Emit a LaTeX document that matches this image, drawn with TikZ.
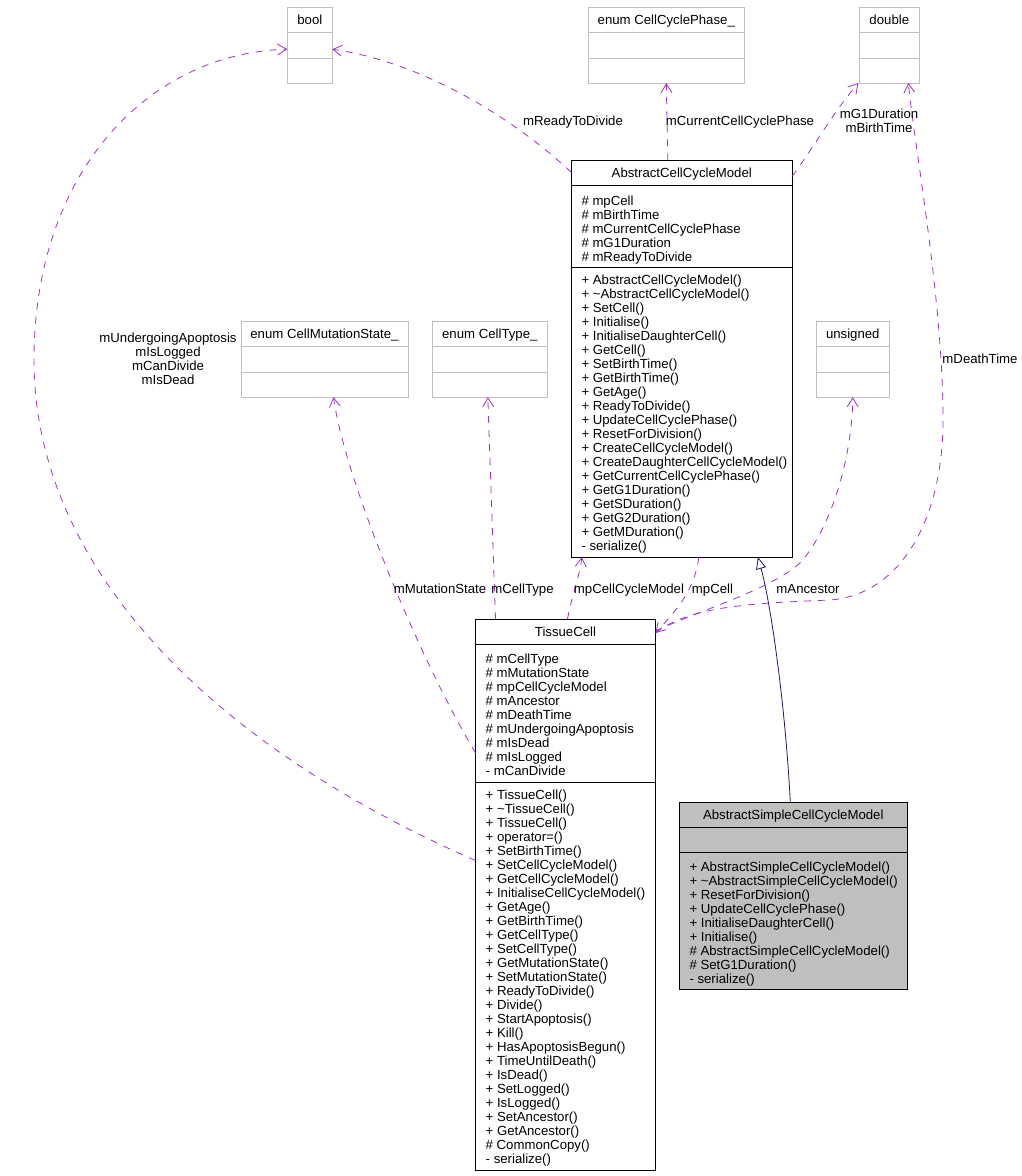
\documentclass[tikz,border=0pt]{standalone}
\usepackage{fontspec}
\setmainfont{Liberation Sans}
\usetikzlibrary{arrows.meta,calc}
\definecolor{relpurple}{HTML}{9A32CD}
\definecolor{inhblue}{HTML}{191970}
\definecolor{typegray}{HTML}{BFBFBF}
\newcommand\umlfont{\fontsize{13.2}{14}\selectfont}

\begin{document}
\begin{tikzpicture}[x=1pt, y=-1pt,
  font=\umlfont,
  cls/.style={draw=black, line width=0.9pt, fill=white, inner sep=0pt, outer sep=0pt},
  typ/.style={draw=typegray, line width=0.9pt, fill=white, inner sep=0pt, outer sep=0pt,
    minimum height=75.7pt},
  ttl/.style={anchor=base, inner sep=0pt},
  mem/.style={anchor=north west, align=left, inner sep=0pt},
  lbl/.style={anchor=base, inner sep=0pt, align=center},
  rel/.style={relpurple, line width=0.8pt, dash pattern=on 7pt off 7pt,
    -{Straight Barb[length=9pt,width=11pt]}},
  inh/.style={inhblue, line width=0.8pt, -{Triangle[open,length=12pt,width=10pt,fill=white]}},
]
\useasboundingbox (0,0) rectangle (1021,1176);

% plain types
\node[typ, minimum width=45pt] (bool) at (309.8,45.2) {};
\node[typ, minimum width=156pt] (phase) at (666.3,45.2) {};
\node[typ, minimum width=60pt] (dbl) at (889.3,45.2) {};
\node[typ, minimum width=167pt] (mutation) at (324.5,359.3) {};
\node[typ, minimum width=114.5pt] (celltype) at (489.8,359.3) {};
\node[typ, minimum width=73pt] (unsig) at (852.8,359.3) {};
\foreach \n in {bool,phase,dbl,mutation,celltype,unsig} {
  \draw[typegray, line width=0.9pt] ([yshift=-25pt]\n.north west) -- ([yshift=-25pt]\n.north east);
  \draw[typegray, line width=0.9pt] ([yshift=25pt]\n.south west) -- ([yshift=25pt]\n.south east);
}
\node[ttl] (boolttl) at ([yshift=-17pt]bool.north) {bool};
\node[ttl] (phasettl) at ([yshift=-17pt]phase.north) {enum CellCyclePhase\_};
\node[ttl] (dblttl) at ([yshift=-17pt]dbl.north) {double};
\node[ttl] (mutationttl) at ([yshift=-17pt]mutation.north) {enum CellMutationState\_};
\node[ttl] (celltypettl) at ([yshift=-17pt]celltype.north) {enum CellType\_};
\node[ttl] (unsigttl) at ([yshift=-17pt]unsig.north) {unsigned};

% AbstractCellCycleModel
\node[cls, minimum width=221pt, minimum height=396.7pt] (accm) at (681.8,358.65) {};
\draw[line width=0.9pt] ([yshift=-25pt]accm.north west) -- ([yshift=-25pt]accm.north east);
\draw[line width=0.9pt] ([yshift=-107pt]accm.north west) -- ([yshift=-107pt]accm.north east);
\node[ttl] (accmttl) at ([yshift=-17pt]accm.north) {AbstractCellCycleModel};
\node[mem] (accmattr) at ([xshift=10pt,yshift=-35pt]accm.north west)
  {\# mpCell\\\# mBirthTime\\\# mCurrentCellCyclePhase\\\# mG1Duration\\\# mReadyToDivide};
\node[mem] (accmops) at ([xshift=10pt,yshift=-114.3pt]accm.north west)
  {+ AbstractCellCycleModel()\\+ \textasciitilde AbstractCellCycleModel()\\+ SetCell()\\
   + Initialise()\\+ InitialiseDaughterCell()\\+ GetCell()\\+ SetBirthTime()\\
   + GetBirthTime()\\+ GetAge()\\+ ReadyToDivide()\\+ UpdateCellCyclePhase()\\
   + ResetForDivision()\\+ CreateCellCycleModel()\\+ CreateDaughterCellCycleModel()\\
   + GetCurrentCellCyclePhase()\\+ GetG1Duration()\\+ GetSDuration()\\
   + GetG2Duration()\\+ GetMDuration()\\- serialize()};

% TissueCell
\node[cls, minimum width=180pt, minimum height=551pt] (tissue) at (565.5,894.5) {};
\draw[line width=0.9pt] ([yshift=-25pt]tissue.north west) -- ([yshift=-25pt]tissue.north east);
\draw[line width=0.9pt] ([yshift=-163pt]tissue.north west) -- ([yshift=-163pt]tissue.north east);
\node[ttl] (tissuettl) at ([yshift=-17pt]tissue.north) {TissueCell};
\node[mem] (tissueattr) at ([xshift=10pt,yshift=-34.3pt]tissue.north west)
  {\# mCellType\\\# mMutationState\\\# mpCellCycleModel\\\# mAncestor\\\# mDeathTime\\
   \# mUndergoingApoptosis\\\# mIsDead\\\# mIsLogged\\- mCanDivide};
\node[mem] (tissueops) at ([xshift=10pt,yshift=-170.3pt]tissue.north west)
  {+ TissueCell()\\+ \textasciitilde TissueCell()\\+ TissueCell()\\+ operator=()\\
   + SetBirthTime()\\+ SetCellCycleModel()\\+ GetCellCycleModel()\\
   + InitialiseCellCycleModel()\\+ GetAge()\\+ GetBirthTime()\\+ GetCellType()\\
   + SetCellType()\\+ GetMutationState()\\+ SetMutationState()\\+ ReadyToDivide()\\
   + Divide()\\+ StartApoptosis()\\+ Kill()\\+ HasApoptosisBegun()\\+ TimeUntilDeath()\\
   + IsDead()\\+ SetLogged()\\+ IsLogged()\\+ SetAncestor()\\+ GetAncestor()\\
   \# CommonCopy()\\- serialize()};

% AbstractSimpleCellCycleModel
\node[cls, fill=typegray, minimum width=228pt, minimum height=187.3pt] (simple) at (793.3,895.65) {};
\draw[line width=0.9pt] ([yshift=-25pt]simple.north west) -- ([yshift=-25pt]simple.north east);
\draw[line width=0.9pt] ([yshift=-50pt]simple.north west) -- ([yshift=-50pt]simple.north east);
\node[ttl] (simplettl) at ([yshift=-17pt]simple.north) {AbstractSimpleCellCycleModel};
\node[mem] (simpleops) at ([xshift=10pt,yshift=-59.3pt]simple.north west)
  {+ AbstractSimpleCellCycleModel()\\+ \textasciitilde AbstractSimpleCellCycleModel()\\
   + ResetForDivision()\\+ UpdateCellCyclePhase()\\+ InitialiseDaughterCell()\\
   + Initialise()\\\# AbstractSimpleCellCycleModel()\\\# SetG1Duration()\\- serialize()};

% member links
\draw[rel] ([yshift=34pt]tissue.west) .. controls (200,740) and (34,560) .. (34,360)
  .. controls (34,170) and (150,53) .. ([yshift=-4pt]bool.west);
\draw[rel] ([yshift=-12pt]accm.north west) .. controls (510,115) and (420,62) .. ([yshift=-4pt]bool.east);
\draw[rel] ([xshift=-14pt]accm.north) -- (phase.south);
\draw[rel] ([yshift=-16pt]accm.north east) .. controls (815,145) and (835,110) .. ([xshift=-1pt]dbl.south west);
\draw[rel] ([yshift=-14pt]tissue.north east) .. controls (690,605) and (760,603) .. (830,600)
  .. controls (900,595) and (943,520) .. (943,420)
  .. controls (943,300) and (915,150) .. ([xshift=19pt]dbl.south);
\draw[rel] ([yshift=-12pt]tissue.north east) .. controls (700,610) and (770,590) .. (800,563)
  .. controls (830,530) and (852,460) .. (unsig.south);
\draw[rel] ([xshift=17pt]accm.south) .. controls (695,590) and (675,612) .. ([yshift=-14pt]tissue.north east);
\draw[rel] ([xshift=2pt]tissue.north) .. controls (572,595) and (580,575) .. ([xshift=-100pt]accm.south);
\draw[rel] ([xshift=-70pt]tissue.north) -- ([xshift=-2pt]celltype.south);
\draw[rel] ([yshift=141.5pt]tissue.west) .. controls (420,660) and (345,480) .. ([xshift=9pt]mutation.south);
% inheritance
\draw[inh] ([xshift=-3pt]simple.north) .. controls (785,700) and (770,600) .. ([xshift=76pt]accm.south);

% link labels
\node[lbl] (lready) at (573,125.7) {mReadyToDivide};
\node[lbl] (lphase) at (740,125.7) {mCurrentCellCyclePhase};
\node[lbl, anchor=center] (ldur) at (879,121) {mG1Duration\\mBirthTime};
\node[lbl, anchor=center] (lapop) at (168,359) {mUndergoingApoptosis\\mIsLogged\\mCanDivide\\mIsDead};
\node[lbl] (ldeath) at (980,363.7) {mDeathTime};
\node[lbl] (lmutation) at (440,593.7) {mMutationState};
\node[lbl] (lcelltype) at (522.5,593.7) {mCellType};
\node[lbl] (lmodel) at (629,593.7) {mpCellCycleModel};
\node[lbl] (lmpcell) at (712.5,593.7) {mpCell};
\node[lbl] (lancestor) at (808,593.7) {mAncestor};
\end{tikzpicture}
\end{document}
